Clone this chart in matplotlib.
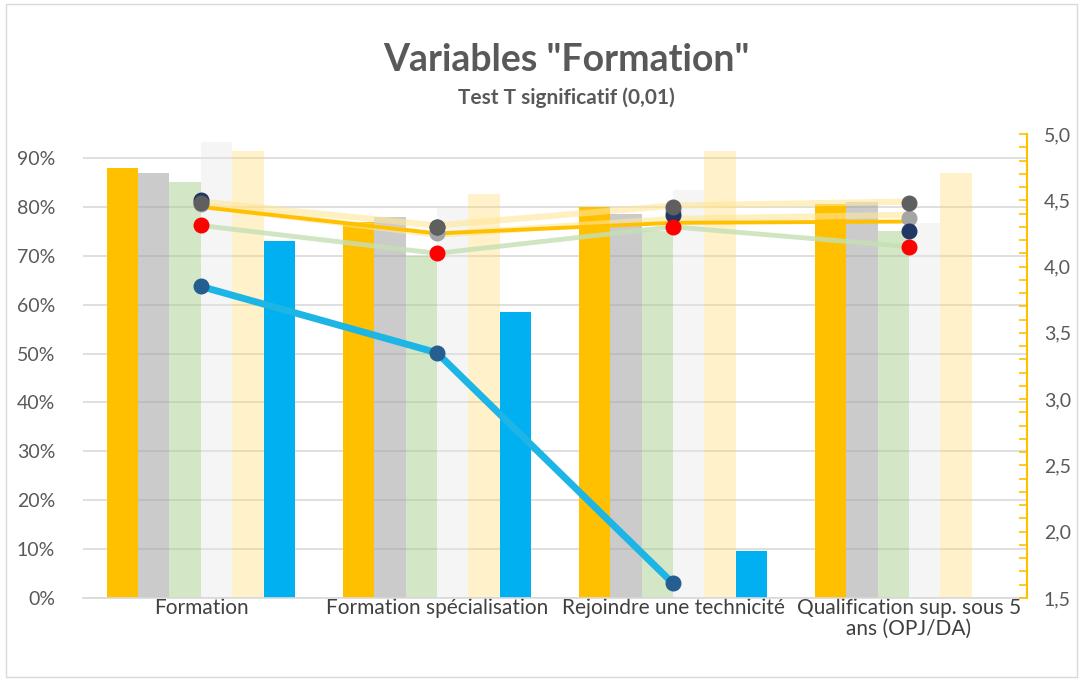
import numpy as np
import matplotlib.pyplot as plt
from matplotlib.patches import Rectangle
from matplotlib.ticker import FuncFormatter, MultipleLocator

plt.rcParams['font.family'] = ['Lato', 'DejaVu Sans']

# === données ===
categories = ['Formation', 'Formation spécialisation', 'Rejoindre une technicité',
              'Qualification sup. sous 5\nans (OPJ/DA)']

# barres (axe gauche, en %)
bar_gold = [0.88, 0.77, 0.80, 0.805]
bar_gray = [0.87, 0.78, 0.785, 0.81]
bar_green = [0.85, 0.70, 0.75, 0.75]
bar_light = [0.932, 0.80, 0.834, 0.767]
bar_yellow = [0.914, 0.826, 0.914, 0.87]
bar_blue = [0.73, 0.585, 0.097, np.nan]

# courbes (axe droit, scores)
line_blue = [3.85, 3.35, 1.61, np.nan]
line_pale1 = [4.49, 4.31, 4.46, 4.49]
line_pale2 = [4.46, 4.24, 4.36, 4.39]
line_gold = [4.45, 4.25, 4.33, 4.34]
line_green = [4.31, 4.10, 4.30, 4.15]

# points seuls
pts_lgray = [4.47, 4.25, 4.42, 4.37]
pts_navy = [4.50, 4.30, 4.39, 4.27]
pts_dgray = [4.48, 4.30, 4.45, 4.48]
pts_red = [4.31, 4.10, 4.30, 4.15]

# === figure ===
fig = plt.figure(figsize=(10.83, 6.81), dpi=100)
ax = fig.add_axes([0.0766, 0.1219, 0.8717, 0.6813])
ax2 = ax.twinx()

x = np.arange(len(categories))
w = 0.8 / 6
bars = [
    (bar_gold, '#FFC000', 1.0),
    (bar_gray, '#A6A6A6', 0.58),
    (bar_green, '#A9D18E', 0.5),
    (bar_light, '#E7E6E6', 0.4),
    (bar_yellow, '#FFD966', 0.35),
    (bar_blue, '#00B0F0', 1.0),
]
for j, (vals, col, a) in enumerate(bars):
    ax.bar(x + (j - 2.5) * w, vals, width=w, color=col, alpha=a, linewidth=0, zorder=2)

ax.set_xlim(-0.5, len(categories) - 0.5)
ax.set_ylim(0, 0.949)
ax.yaxis.set_major_locator(MultipleLocator(0.1))
ax.yaxis.set_major_formatter(FuncFormatter(lambda v, p: f'{v * 100:.0f}%'))
ax.grid(axis='y', color='#D9D9D9', linewidth=1.2, zorder=0)
ax.set_axisbelow(True)
ax.set_xticks(x)
ax.set_xticklabels(categories, fontsize=15, color='#404040', linespacing=1.05)
ax.tick_params(axis='x', length=0, pad=0)
ax.tick_params(axis='y', length=0, labelsize=14, labelcolor='#595959', pad=20)
for s in ['left', 'top', 'right']:
    ax.spines[s].set_visible(False)
ax.spines['bottom'].set_color('#D9D9D9')
ax.spines['bottom'].set_linewidth(1.2)

# === courbes ===
ax2.plot(x, line_pale1, color='#FFE699', alpha=0.6, linewidth=4.5, solid_capstyle='butt')
ax2.plot(x, line_pale2, color='#FFE699', alpha=0.6, linewidth=4.5, solid_capstyle='butt')
ax2.plot(x, line_gold, color='#FFC000', linewidth=2.8)
ax2.plot(x, line_green, color='#C5E0B4', alpha=0.8, linewidth=3.5)
ax2.plot(x, line_blue, color='#1DB4E6', linewidth=5, marker='o', markersize=10.5,
         markerfacecolor='#255E91', markeredgecolor='#255E91')
ms = 10.5
ax2.plot(x, pts_lgray, linestyle='none', marker='o', markersize=ms, color='#A5A5A5')
ax2.plot(x, pts_navy, linestyle='none', marker='o', markersize=ms, color='#203864')
ax2.plot(x, pts_dgray, linestyle='none', marker='o', markersize=ms, color='#5F5F5F')
ax2.plot(x, pts_red, linestyle='none', marker='o', markersize=ms, color='#FF0000')

ax2.set_ylim(1.5, 5.0)
ax2.yaxis.set_major_locator(MultipleLocator(0.5))
ax2.yaxis.set_minor_locator(MultipleLocator(0.1))
ax2.yaxis.set_major_formatter(FuncFormatter(lambda v, p: f'{v:.1f}'.replace('.', ',')))
ax2.tick_params(axis='y', which='both', direction='in', color='#FFC000', width=1.2,
                labelsize=14, labelcolor='#595959', pad=12)
ax2.tick_params(axis='y', which='major', length=6)
ax2.tick_params(axis='y', which='minor', length=6)
for s in ['left', 'top', 'bottom']:
    ax2.spines[s].set_visible(False)
ax2.spines['right'].set_color('#FFC000')
ax2.spines['right'].set_linewidth(1.5)

# === titres ===
fig.text(0.523, 0.912, 'Variables "Formation"', ha='center', va='center',
         fontsize=27, fontweight='bold', color='#595959')
fig.text(0.523, 0.857, 'Test T significatif (0,01)', ha='center', va='center',
         fontsize=15, fontweight='bold', color='#595959')

fig.patches.append(Rectangle((0.006, 0.006), 0.988, 0.988, transform=fig.transFigure,
                             fill=False, edgecolor='#D9D9D9', linewidth=1))

plt.savefig('out.png', dpi=100)
